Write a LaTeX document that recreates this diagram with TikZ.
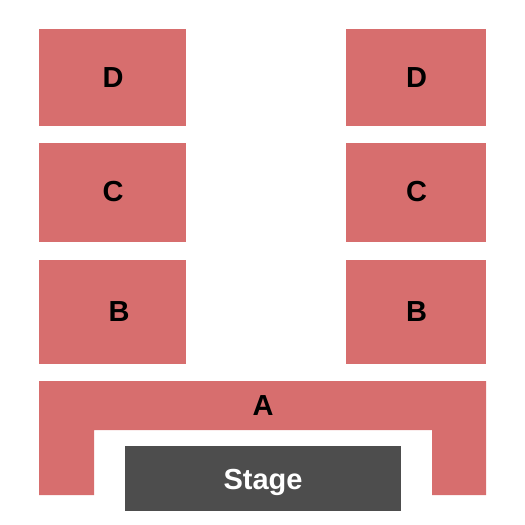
\documentclass[tikz,border=0pt]{standalone}
\usepackage{fontspec}
\setmainfont{Liberation Sans}
\definecolor{seatred}{HTML}{D76E6E}
\definecolor{stagegray}{HTML}{4D4D4D}
\begin{document}
\begin{tikzpicture}[x=1pt,y=-1pt,
  sec/.style={fill=seatred},
  lbl/.style={inner sep=0pt, font=\bfseries\fontsize{29}{29}\selectfont}]
\useasboundingbox (0,0) rectangle (525,525);
% sections D, C, B
\fill[sec] (39,29) rectangle (186,126);
\fill[sec] (346,29) rectangle (486,126);
\fill[sec] (39,143) rectangle (186,242);
\fill[sec] (346,143) rectangle (486,242);
\fill[sec] (39,260) rectangle (186,364);
\fill[sec] (346,260) rectangle (486,364);
% section A
\fill[sec] (39,381) -- (486,381) -- (486,495) -- (432,495) -- (432,430)
  -- (94,430) -- (94,495) -- (39,495) -- cycle;
% stage
\fill[stagegray] (125,446) rectangle (401,511);
\node[lbl] (dl) at (113,77.5) {D};
\node[lbl] (dr) at (416.5,77.5) {D};
\node[lbl] (cl) at (113,192) {C};
\node[lbl] (cr) at (416.5,192) {C};
\node[lbl] (bl) at (119,312) {B};
\node[lbl] (br) at (416.5,312) {B};
\node[lbl] (a) at (263,405.5) {A};
\node[lbl, anchor=base, white] (stage) at (263,489) {Stage};
\end{tikzpicture}
\end{document}
